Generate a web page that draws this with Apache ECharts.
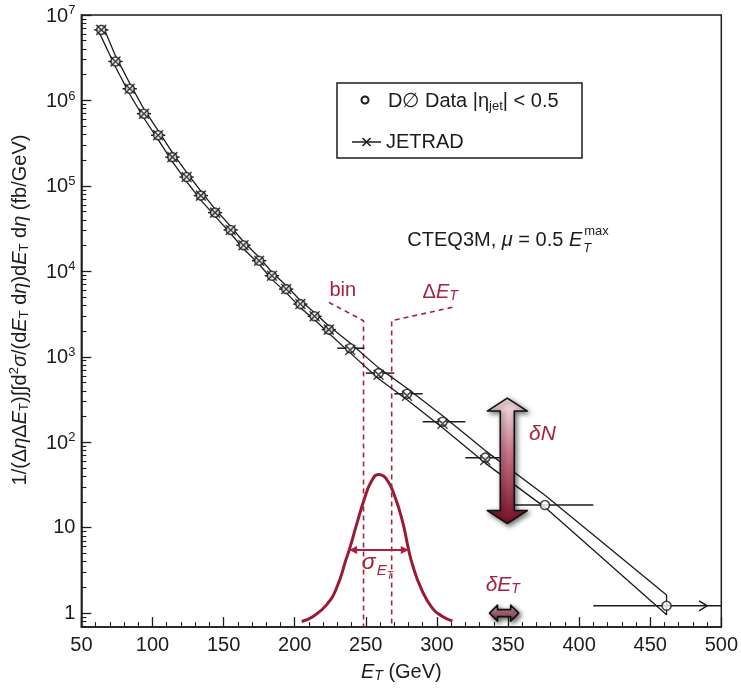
<!DOCTYPE html>
<html><head><meta charset="utf-8">
<script src="https://cdn.jsdelivr.net/npm/echarts@6/dist/echarts.min.js"></script>
<style>html,body{margin:0;padding:0;background:#fff}#c{width:741px;height:692px}</style>
</head><body><div id="c"></div>
<script>
const FONT = '"Liberation Sans", Arial, Helvetica, sans-serif';
const INK = '#1c1c1c';
const RED = '#a8213d';

// ---- D0 data: bin centre E_T (GeV), value (fb/GeV), bin edges ----
const dataET  = [64, 74, 84, 94, 104, 114, 124, 134, 144, 155, 164, 175, 184, 194, 204, 214, 224, 239, 259, 279, 304, 334, 376, 461.5];
const dataVal = [6.7e6, 2.86e6, 1.37e6, 7.0e5, 3.92e5, 2.17e5, 1.27e5, 7.7e4, 4.87e4, 3.05e4, 2.02e4, 1.33e4, 8870, 6200, 4140, 2980, 2080, 1260, 644, 369, 174, 66, 18.4, 1.22];
const binLo   = [59, 69, 79, 89, 99, 109, 119, 129, 139, 150, 159, 170, 179, 189, 199, 209, 219, 230, 250, 270, 290, 320, 345, 410];
const binHi   = [69, 79, 89, 99, 109, 119, 129, 139, 149, 160, 169, 180, 189, 199, 209, 219, 229, 249, 270, 290, 320, 344, 410, 500];

// ---- JETRAD prediction (cross markers) ----
const jetET  = [64, 74, 84, 94, 104, 114, 124, 134, 144, 155, 164, 175, 184, 194, 204, 214, 224, 239, 259, 279, 304, 334];
const jetVal = [6.7e6, 2.86e6, 1.37e6, 7.0e5, 3.92e5, 2.17e5, 1.27e5, 7.7e4, 4.87e4, 3.05e4, 2.02e4, 1.33e4, 8870, 6200, 4140, 2980, 2080, 1200, 615, 350, 165, 62];

// ---- JETRAD band edges ----
const bandLowET = [61.7, 74, 84, 94, 104, 114, 124, 134, 144, 155, 164, 175, 184, 194, 204, 214, 224, 239, 259, 279, 304, 334, 376, 461.5];
const bandLowV  = [6.7e6, 2.466e6, 1.181e6, 6.19e5, 3.47e5, 1.92e5, 1.124e5, 6.81e4, 4.43e4, 2.77e4, 1.84e4, 1.21e4, 8060, 5640, 3760, 2710, 1890, 1111, 552, 314, 148, 57.0, 17.3, 0.955];
const bandUpET  = [66.3, 74, 84, 94, 104, 114, 124, 134, 144, 155, 164, 175, 184, 194, 204, 214, 224, 239, 259, 279, 304, 334, 376, 461.5];
const bandUpV   = [6.7e6, 3.32e6, 1.59e6, 7.91e5, 4.43e5, 2.45e5, 1.435e5, 8.70e4, 5.36e4, 3.36e4, 2.22e4, 1.46e4, 9760, 6820, 4550, 3280, 2290, 1452, 742, 428, 204, 79.8, 24.0, 1.635];

// ---- Resolution sketch (Gaussian) ----
const gaussET = [204.9, 213.0, 222.4, 229.4, 236.4, 238.7, 243.4, 249.1, 253.8, 258.9, 264.3, 270.1, 275.9, 279.9, 282.9, 288.8, 296.9, 303.9, 310.9];
const gaussV  = [0.80, 0.915, 1.25, 1.96, 4.38, 5.73, 10.7, 22.0, 34.4, 41.9, 37.6, 24.0, 11.7, 5.73, 3.66, 1.96, 1.14, 0.915, 0.81];

// ---- Axis ticks ----
const xTickStep = 50;
const yMajor = [1, 10, 100, 1e3, 1e4, 1e5, 1e6, 1e7];
const yMinorMult = [2, 3, 4, 5, 6, 7, 8, 9];
const yBelowOne = [0.7, 0.8, 0.9];
const Y_MIN = 0.6866, Y_MAX = 1e7;

// ---- Annotation anchors (data units) ----
const ANN = {
  binLines: [248.4, 268.2], binTop: 2645,
  binLeftEnd: [224.0, 4336], binRightEnd: [310.9, 3793],
  binLabel: [233.8, 6040], dEtLabel: [302.3, 5720],
  sigma: [238.3, 280.2, 5.48], sigmaLabel: [247.1, 3.94],
  dN: [349.5, 329, 11.2], dNLabel: [374.2, 126],
  dEt: [337, 357.5, 1.0], dEtArrowLabel: [346.3, 2.18],
  overflowArrow: [490, 1.22],
  cteq: [402.2, 2.31e4]
};

const yMinor = yBelowOne.slice();
for (let d = 0; d < 7; d++) yMinorMult.forEach(m => yMinor.push(m * Math.pow(10, d)));

function richSet(base, sub, color, key) {
  const mk = o => { o[key] = color; o.fontFamily = FONT; return o; };
  return {
    n: mk({fontSize: base, lineHeight: base + 3, verticalAlign: 'top', padding: [2, 0, 5, 0]}),
    i: mk({fontSize: base, fontStyle: 'italic', lineHeight: base + 3, verticalAlign: 'top', padding: [2, 0, 5, 0]}),
    s: mk({fontSize: sub, fontStyle: 'italic', lineHeight: sub + 1, verticalAlign: 'bottom'}),
    r: mk({fontSize: sub, lineHeight: sub + 1, verticalAlign: 'bottom'}),
    p: mk({fontSize: sub, lineHeight: sub + 1, verticalAlign: 'top'})
  };
}

const bandLoop = [];
for (let i = 0; i < bandLowET.length; i++) bandLoop.push([bandLowET[i], bandLowV[i]]);
for (let i = bandUpET.length - 1; i >= 0; i--) bandLoop.push([bandUpET[i], bandUpV[i]]);
bandLoop.push([bandLowET[0], bandLowV[0]]);

const chart = echarts.init(document.getElementById('c'));

const option = {
  animation: false,
  backgroundColor: '#ffffff',
  grid: {left: 80, right: 17, top: 15, bottom: 63, show: true, borderColor: INK, borderWidth: 1.5, backgroundColor: 'transparent'},
  xAxis: {
    type: 'value', min: 50, max: 500, interval: xTickStep,
    axisLine: {lineStyle: {color: INK, width: 1.5}},
    axisTick: {inside: true, length: 10, lineStyle: {color: INK, width: 1.3}},
    minorTick: {show: true, splitNumber: 5, length: 5, lineStyle: {color: INK, width: 1.1}},
    splitLine: {show: false}, minorSplitLine: {show: false},
    axisLabel: {fontFamily: FONT, fontSize: 20, color: INK, margin: 8},
    name: '{i|E}{s|T}{n| (GeV)}', nameLocation: 'middle', nameGap: 30,
    nameTextStyle: {fontFamily: FONT, fontSize: 20, color: INK, rich: richSet(20, 14, INK, 'color')}
  },
  yAxis: [{
    type: 'log', min: Y_MIN, max: Y_MAX,
    axisLine: {show: true, lineStyle: {color: INK, width: 1.5}},
    axisTick: {inside: true, length: 10, customValues: yMajor, lineStyle: {color: INK, width: 1.3}},
    splitLine: {show: false},
    axisLabel: {
      customValues: yMajor, fontFamily: FONT, fontSize: 20, color: INK, margin: 6,
      formatter: v => {
        if (v < 5) return '1';
        if (v < 50) return '10';
        return '{b|10}{e|' + Math.round(Math.log10(v)) + '}';
      },
      rich: {
        b: {fontFamily: FONT, fontSize: 20, color: INK, lineHeight: 22, verticalAlign: 'bottom', padding: [4, 0, 0, 0]},
        e: {fontFamily: FONT, fontSize: 13, color: INK, lineHeight: 14, verticalAlign: 'top'}
      }
    },
    name: '{n|1/(Δ}{i|η}{n|Δ}{i|E}{r|T}{n|)∫∫d}{p|2}{i|σ}{n|/(d}{i|E}{r|T}{n| d}{i|η}{n|)d}{i|E}{r|T}{n| d}{i|η}{n| (fb/GeV)}',
    nameLocation: 'middle', nameGap: 47, nameRotate: 90,
    nameTextStyle: {fontFamily: FONT, fontSize: 20, color: INK, padding: [0, 0, 0, 22], rich: richSet(20, 13, INK, 'color')}
  }, {
    type: 'log', min: Y_MIN, max: Y_MAX, position: 'left',
    axisLine: {show: false},
    axisTick: {inside: true, length: 5, customValues: yMinor, lineStyle: {color: INK, width: 1.1}},
    axisLabel: {show: false}, splitLine: {show: false}
  }],
  series: [
    {name: 'band', type: 'line', data: bandLoop, symbol: 'none', z: 3,
     lineStyle: {color: INK, width: 1.3}},
    {name: 'resolution', type: 'line', data: gaussET.map((e, i) => [e, gaussV[i]]), smooth: true, symbol: 'none', z: 2,
     lineStyle: {color: '#9a1b33', width: 3}},
    {name: 'binLeft', type: 'line', symbol: 'none', z: 2,
     data: [ANN.binLeftEnd, [ANN.binLines[0], ANN.binTop], [ANN.binLines[0], Y_MIN]],
     lineStyle: {color: RED, width: 1.6, type: [5, 4]}},
    {name: 'binRight', type: 'line', symbol: 'none', z: 2,
     data: [ANN.binRightEnd, [ANN.binLines[1], ANN.binTop], [ANN.binLines[1], Y_MIN]],
     lineStyle: {color: RED, width: 1.6, type: [5, 4]}},
    {name: 'xerr', type: 'custom', z: 4,
     data: dataET.map((e, i) => [binLo[i], binHi[i], dataVal[i]]),
     encode: {x: [0, 1], y: 2},
     renderItem: (params, api) => {
       const a = api.coord([api.value(0), api.value(2)]);
       const b = api.coord([api.value(1), api.value(2)]);
       return {type: 'line', shape: {x1: a[0], y1: a[1], x2: b[0], y2: b[1]}, style: {stroke: INK, lineWidth: 1.5}};
     }},
    {name: 'D0 Data', type: 'scatter', z: 5, data: dataET.map((e, i) => [e, dataVal[i]]),
     symbol: 'circle', symbolSize: 9,
     itemStyle: {color: '#ffffff', borderColor: INK, borderWidth: 1.6}},
    {name: 'JETRAD', type: 'scatter', z: 6, data: jetET.map((e, i) => [e, jetVal[i]]),
     symbol: 'path://M0,0L10,10M0,10L10,0', symbolSize: 10,
     itemStyle: {color: 'transparent', borderColor: INK, borderWidth: 1.5}}
  ]
};
chart.setOption(option);

function P(e, v) { return chart.convertToPixel({seriesIndex: 0}, [e, v]); }

function txt(pos, text, opts) {
  return Object.assign({type: 'text', x: pos[0], y: pos[1], z: 100,
    style: Object.assign({text: text, fontFamily: FONT, align: 'center', verticalAlign: 'middle'}, opts)});
}

const G = [];
// bin / ΔE_T labels
G.push(txt(P(...ANN.binLabel), 'bin', {fontSize: 20, fill: RED}));
G.push(txt(P(...ANN.dEtLabel), '{n|Δ}{i|E}{s|T}', {rich: richSet(20, 14, RED, 'fill')}));
// sigma arrow
(function () {
  const a = P(ANN.sigma[0], ANN.sigma[2]), b = P(ANN.sigma[1], ANN.sigma[2]);
  G.push({type: 'line', z: 100, shape: {x1: a[0] + 4, y1: a[1], x2: b[0] - 4, y2: b[1]}, style: {stroke: RED, lineWidth: 2}});
  G.push({type: 'polygon', z: 100, shape: {points: [[a[0], a[1]], [a[0] + 8, a[1] - 4], [a[0] + 8, a[1] + 4]]}, style: {fill: RED}});
  G.push({type: 'polygon', z: 100, shape: {points: [[b[0], b[1]], [b[0] - 8, b[1] - 4], [b[0] - 8, b[1] + 4]]}, style: {fill: RED}});
  const s = P(...ANN.sigmaLabel);
  G.push(txt([s[0], s[1]], 'σ', {align: 'left', verticalAlign: 'middle', fontSize: 23, fontStyle: 'italic', fill: RED}));
  G.push(txt([s[0] + 15, s[1] + 9], 'E', {align: 'left', verticalAlign: 'middle', fontSize: 15, fontStyle: 'italic', fill: RED}));
  G.push(txt([s[0] + 25, s[1] + 14], 'T', {align: 'left', verticalAlign: 'middle', fontSize: 10, fontStyle: 'italic', fill: RED}));
})();
// δN arrow
(function () {
  const t = P(ANN.dN[0], ANN.dN[1]), b = P(ANN.dN[0], ANN.dN[2]);
  const cx = t[0], ty = t[1], by = b[1], hw = 20, hh = 13, sw = 7;
  G.push({type: 'polygon', z: 90, shape: {points: [[cx, ty], [cx + hw, ty + hh], [cx + sw, ty + hh], [cx + sw, by - hh], [cx + hw, by - hh], [cx, by], [cx - hw, by - hh], [cx - sw, by - hh], [cx - sw, ty + hh], [cx - hw, ty + hh]]},
    style: {fill: new echarts.graphic.LinearGradient(0, 0, 0, 1, [{offset: 0, color: '#f7e6ea'}, {offset: 0.45, color: '#c57287'}, {offset: 1, color: '#7a0f26'}]),
      stroke: '#111', lineWidth: 1.6, lineJoin: 'round', shadowBlur: 5, shadowColor: 'rgba(0,0,0,0.55)', shadowOffsetX: 2, shadowOffsetY: 2}});
  G.push(txt(P(...ANN.dNLabel), 'δN', {fontSize: 21, fontStyle: 'italic', fill: RED}));
})();
// δE_T arrow
(function () {
  const a = P(ANN.dEt[0], ANN.dEt[2]), b = P(ANN.dEt[1], ANN.dEt[2]);
  const x1 = a[0], x2 = b[0], cy = a[1], hl = 8, hh = 8, sw = 3.5;
  G.push({type: 'polygon', z: 90, shape: {points: [[x1, cy], [x1 + hl, cy - hh], [x1 + hl, cy - sw], [x2 - hl, cy - sw], [x2 - hl, cy - hh], [x2, cy], [x2 - hl, cy + hh], [x2 - hl, cy + sw], [x1 + hl, cy + sw], [x1 + hl, cy + hh]]},
    style: {fill: new echarts.graphic.LinearGradient(0, 0, 0, 1, [{offset: 0, color: '#e7bcc7'}, {offset: 1, color: '#8a1f38'}]),
      stroke: '#111', lineWidth: 1.6, lineJoin: 'round', shadowBlur: 5, shadowColor: 'rgba(0,0,0,0.6)', shadowOffsetX: 2, shadowOffsetY: 2}});
  G.push(txt(P(...ANN.dEtArrowLabel), '{i|δE}{s|T}', {rich: richSet(21, 14, RED, 'fill')}));
})();
// overflow arrow on last bin
(function () {
  const p = P(...ANN.overflowArrow);
  G.push({type: 'polyline', z: 100, shape: {points: [[p[0] - 8, p[1] - 5], [p[0], p[1]], [p[0] - 8, p[1] + 5]]}, style: {stroke: INK, lineWidth: 1.5, fill: null}});
})();
// CTEQ3M text
(function () {
  const p = P(...ANN.cteq);
  G.push(txt(p, '{n|CTEQ3M, }{i|μ}{n| = 0.5 }{i|E}', {align: 'right', rich: {
    n: {fontFamily: FONT, fontSize: 20, fill: INK}, i: {fontFamily: FONT, fontSize: 20, fontStyle: 'italic', fill: INK}}}));
  G.push(txt([p[0] + 2, p[1] - 9], 'max', {align: 'left', fontSize: 13, fill: INK}));
  G.push(txt([p[0] + 1, p[1] + 8], 'T', {align: 'left', fontSize: 13, fontStyle: 'italic', fill: INK}));
})();
// legend box
G.push({type: 'rect', z: 95, shape: {x: 337, y: 83, width: 245, height: 75}, style: {fill: '#fff', stroke: INK, lineWidth: 1.5}});
G.push({type: 'circle', z: 96, shape: {cx: 365, cy: 100, r: 3.5}, style: {fill: '#fff', stroke: INK, lineWidth: 2}});
G.push(Object.assign(txt([388, 101], '{n|D∅ Data |}{n|η}{r|jet}{n|| < 0.5}', {align: 'left', rich: richSet(20, 13, INK, 'fill')}), {z: 96}));
G.push({type: 'line', z: 96, shape: {x1: 352, y1: 142, x2: 381, y2: 142}, style: {stroke: INK, lineWidth: 1.5}});
G.push({type: 'polyline', z: 96, shape: {points: [[362.5, 138], [370.5, 146]]}, style: {stroke: INK, lineWidth: 1.6, fill: null}});
G.push({type: 'polyline', z: 96, shape: {points: [[362.5, 146], [370.5, 138]]}, style: {stroke: INK, lineWidth: 1.6, fill: null}});
G.push(Object.assign(txt([386, 142], 'JETRAD', {align: 'left', fontSize: 20, fill: INK}), {z: 96}));

chart.setOption({graphic: G});
</script>
</body></html>
